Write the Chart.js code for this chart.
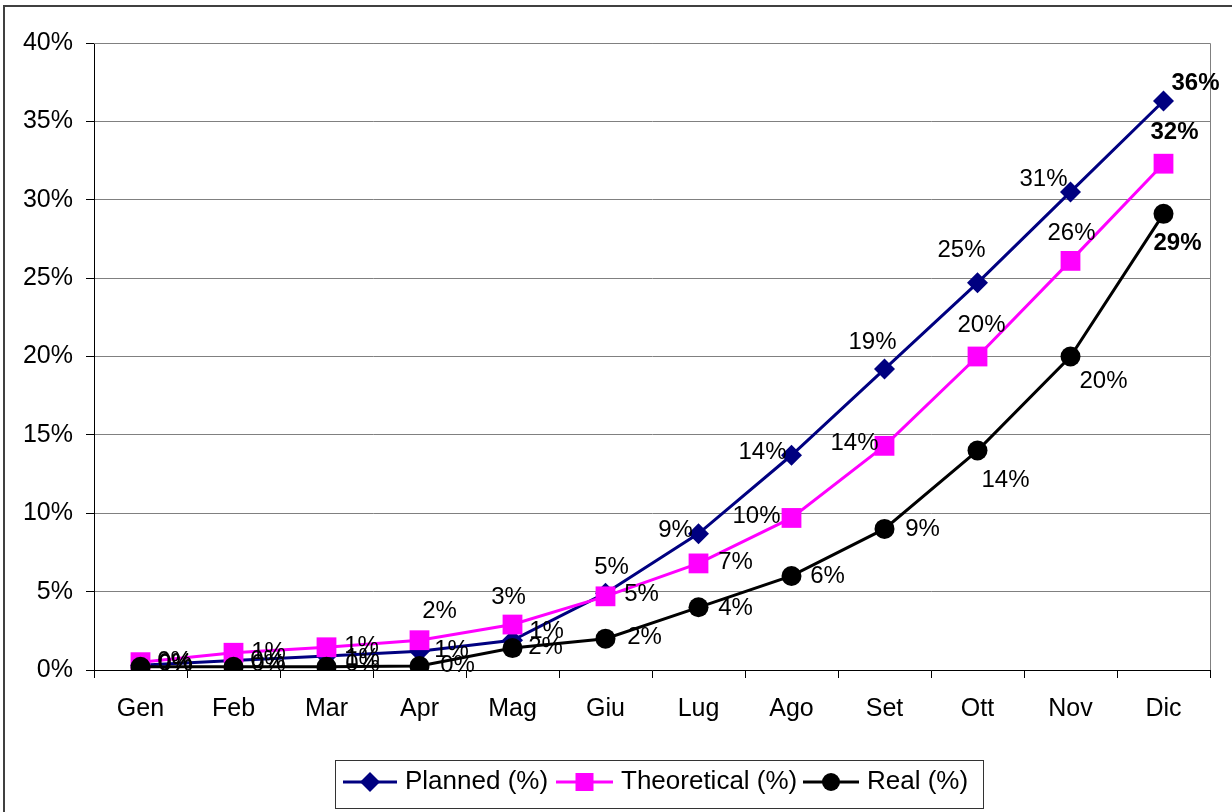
<!DOCTYPE html>
<html><head><meta charset="utf-8">
<script src="https://cdn.jsdelivr.net/npm/chart.js@4/dist/chart.umd.min.js"></script>
<style>html,body{margin:0;padding:0;background:#fff;} canvas{display:block;}</style>
</head><body>
<canvas id="c" width="1232" height="812"></canvas>
<script>
// ---- data ----
const months = ["Gen","Feb","Mar","Apr","Mag","Giu","Lug","Ago","Set","Ott","Nov","Dic"];
const planned = [0.3, 0.6, 0.9, 1.2, 1.9, 4.9, 8.7, 13.7, 19.2, 24.7, 30.5, 36.3];
const theoretical = [0.5, 1.1, 1.45, 1.9, 2.9, 4.7, 6.8, 9.7, 14.3, 20.0, 26.1, 32.3];
const real = [0.2, 0.2, 0.2, 0.25, 1.4, 2.0, 4.0, 6.0, 9.0, 14.0, 20.0, 29.1];
const plannedLabels = ["0%","0%","1%","1%","1%","5%","9%","14%","19%","25%","31%","36%"];
const theoreticalLabels = ["0%","1%","1%","2%","3%","5%","7%","10%","14%","20%","26%","32%"];
const realLabels = ["0%","0%","0%","0%","2%","2%","4%","6%","9%","14%","20%","29%"];
const seriesNames = ["Planned (%)","Theoretical (%)","Real (%)"];
const yMin = 0, yMax = 40, yStep = 5;

// ---- layout of the data labels (pixel offsets from the marker) ----
const plannedOffsets = [[35,-2],[34,0],[36,2],[32,-1],[34,-9],[6,-26],[-23,-3],[-29,-3],[-12,-27],[-16,-32],[-27,-13],[32,-18]];
const theoreticalOffsets = [[34,-1],[35,0],[35,-1],[20,-29],[-4,-27],[36,-2],[37,-1],[-35,-2],[-30,-2],[4,-31],[1,-28],[11,-31]];
const realOffsets = [[35,-2],[35,-2],[36,-2],[38,-1],[33,-1],[39,-1],[37,1],[36,0],[38,0],[28,30],[33,25],[14,30]];

const FONT = '"Liberation Sans", Arial, Helvetica, sans-serif';
const AXIS_FS = 25, LABEL_FS = 24, LEGEND_FS = 26;
const NAVY = '#000080', MAGENTA = '#FF00FF', BLACK = '#000000';

const labelPlugin = {
  id: 'pointLabels',
  afterDatasetsDraw(chart) {
    const ctx = chart.ctx;
    chart.data.datasets.forEach((ds, i) => {
      const meta = chart.getDatasetMeta(i);
      meta.data.forEach((pt, j) => {
        const off = ds.labelOffsets[j];
        ctx.save();
        ctx.font = (j === ds.data.length - 1 ? 'bold ' : '') + LABEL_FS + 'px ' + FONT;
        ctx.fillStyle = '#000';
        ctx.textAlign = 'center';
        ctx.textBaseline = 'middle';
        ctx.fillText(ds.pointLabels[j], pt.x + off[0], pt.y + off[1]);
        ctx.restore();
      });
    });
  }
};

function drawMarker(ctx, style, x, y, r, color) {
  ctx.save();
  ctx.fillStyle = color;
  ctx.beginPath();
  if (style === 'rectRot') {
    ctx.moveTo(x, y - r); ctx.lineTo(x + r, y); ctx.lineTo(x, y + r); ctx.lineTo(x - r, y); ctx.closePath();
  } else if (style === 'rect') {
    ctx.rect(x - r, y - r, 2 * r, 2 * r);
  } else {
    ctx.arc(x, y, r, 0, Math.PI * 2);
  }
  ctx.fill();
  ctx.restore();
}

const framePlugin = {
  id: 'frame',
  beforeDraw(chart) {
    const ctx = chart.ctx;
    ctx.save();
    ctx.fillStyle = '#fff';
    ctx.fillRect(0, 0, chart.width, chart.height);
    ctx.restore();
  },
  beforeDatasetsDraw(chart) {
    const ctx = chart.ctx, a = chart.chartArea;
    ctx.save();
    ctx.strokeStyle = '#808080';
    ctx.lineWidth = 1;
    ctx.beginPath();
    ctx.moveTo(a.left, Math.round(a.top) + 0.5);
    ctx.lineTo(Math.round(a.right) + 0.5, Math.round(a.top) + 0.5);
    ctx.lineTo(Math.round(a.right) + 0.5, a.bottom);
    ctx.stroke();
    ctx.restore();
  },
  afterDraw(chart) {
    const ctx = chart.ctx;
    ctx.save();
    // outer frame
    ctx.strokeStyle = '#404040';
    ctx.lineWidth = 2;
    ctx.beginPath();
    ctx.moveTo(4, chart.height + 5);
    ctx.lineTo(4, 6);
    ctx.lineTo(chart.width + 5, 6);
    ctx.stroke();
    // legend
    const bx = 335, by = 760, bw = 648, bh = 48;
    ctx.strokeStyle = '#333';
    ctx.lineWidth = 1;
    ctx.strokeRect(bx + 0.5, by + 0.5, bw, bh);
    const items = [
      {x0: 343, x1: 397, tx: 405},
      {x0: 556, x1: 613, tx: 621},
      {x0: 803, x1: 859, tx: 867}
    ];
    const cy = 782;
    chart.data.datasets.forEach((ds, i) => {
      const it = items[i];
      ctx.strokeStyle = ds.borderColor;
      ctx.lineWidth = 3;
      ctx.beginPath();
      ctx.moveTo(it.x0, cy); ctx.lineTo(it.x1, cy);
      ctx.stroke();
      const mx = (it.x0 + it.x1) / 2;
      const r = ds.pointStyle === 'rectRot' ? 10 : (ds.pointStyle === 'rect' ? 9 : 9);
      drawMarker(ctx, ds.pointStyle, mx, cy, r, ds.pointBackgroundColor);
      ctx.fillStyle = '#000';
      ctx.font = LEGEND_FS + 'px ' + FONT;
      ctx.textAlign = 'left';
      ctx.textBaseline = 'middle';
      ctx.fillText(ds.label, it.tx, cy);
    });
    ctx.restore();
  }
};

new Chart(document.getElementById('c'), {
  type: 'line',
  data: {
    labels: months,
    datasets: [
      {label: seriesNames[0], data: planned, pointLabels: plannedLabels, labelOffsets: plannedOffsets,
       borderColor: NAVY, backgroundColor: NAVY, pointBackgroundColor: NAVY, pointBorderColor: NAVY,
       borderWidth: 3, pointStyle: 'rectRot', pointRadius: 10.5, pointBorderWidth: 0, order: 3, tension: 0},
      {label: seriesNames[1], data: theoretical, pointLabels: theoreticalLabels, labelOffsets: theoreticalOffsets,
       borderColor: MAGENTA, backgroundColor: MAGENTA, pointBackgroundColor: MAGENTA, pointBorderColor: MAGENTA,
       borderWidth: 3, pointStyle: 'rect', pointRadius: 14, pointBorderWidth: 0, order: 2, tension: 0},
      {label: seriesNames[2], data: real, pointLabels: realLabels, labelOffsets: realOffsets,
       borderColor: BLACK, backgroundColor: BLACK, pointBackgroundColor: BLACK, pointBorderColor: BLACK,
       borderWidth: 3, pointStyle: 'circle', pointRadius: 10, pointBorderWidth: 0, order: 1, tension: 0}
    ]
  },
  options: {
    responsive: false,
    animation: false,
    devicePixelRatio: 1,
    layout: {padding: {left: 0, top: 43, right: 22, bottom: 0}},
    plugins: {legend: {display: false}, tooltip: {enabled: false}},
    scales: {
      x: {
        offset: true,
        grid: {drawOnChartArea: false, drawTicks: true, tickLength: 8, tickColor: '#000', offset: true},
        border: {color: '#000', width: 1},
        ticks: {color: '#000', font: {family: FONT, size: AXIS_FS}, padding: 16, maxRotation: 0, autoSkip: false},
        afterFit(s) { s.height = 142; }
      },
      y: {
        min: yMin, max: yMax,
        grid: {color: '#808080', lineWidth: 1, tickLength: 8, tickColor: '#000'},
        border: {color: '#000', width: 1},
        ticks: {stepSize: yStep, color: '#000', font: {family: FONT, size: AXIS_FS}, padding: 13,
                callback: v => v + '%'},
        afterFit(s) { s.width = 94; }
      }
    }
  },
  plugins: [labelPlugin, framePlugin]
});
</script>
</body></html>
